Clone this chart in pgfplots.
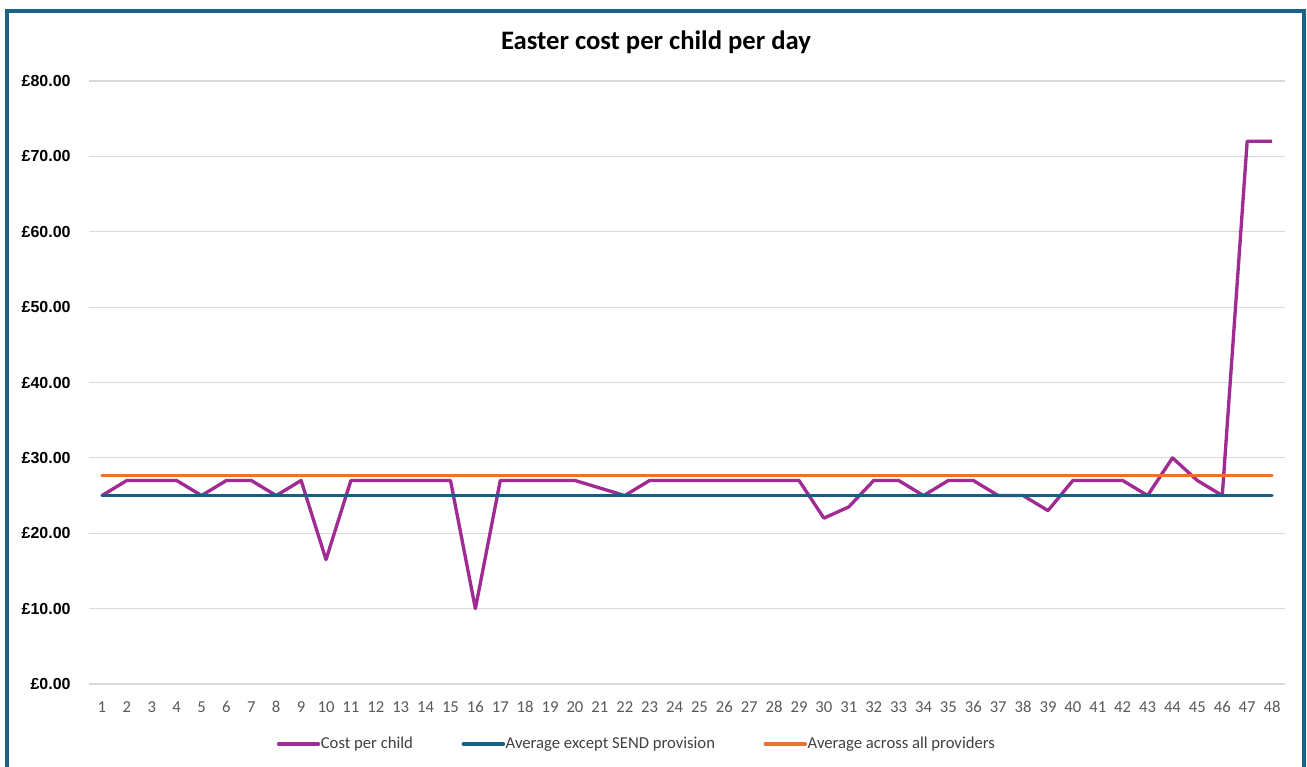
\documentclass[border=0pt]{standalone}
\usepackage{fontspec}
\setmainfont{Carlito}
\newfontfamily\ylabfont{Liberation Sans}
\usepackage{pgfplots}
\pgfplotsset{compat=1.18}
\definecolor{cpurple}{HTML}{A02B93}
\definecolor{cblue}{HTML}{156082}
\definecolor{corange}{HTML}{E97132}
\definecolor{cgrid}{HTML}{D9D9D9}
\definecolor{ctick}{HTML}{595959}
\definecolor{clegend}{HTML}{404040}
\definecolor{cborder}{HTML}{1B6288}
\begin{document}
\begin{tikzpicture}
\useasboundingbox (0,0) rectangle (980.25pt,575.25pt);
\fill[white] (0,0) rectangle (980.25pt,575.25pt);
\begin{axis}[
  at={(67.125pt,62.25pt)}, anchor=south west,
  scale only axis, width=896.25pt, height=452.25pt,
  xmin=0.5, xmax=48.5, ymin=0, ymax=80,
  xtick={1,...,48}, ytick={0,10,...,80},
  axis line style={draw=none}, major tick length=0pt,
  ymajorgrids, grid style={cgrid, line width=0.9pt},
  /pgf/number format/assume math mode=true,
  xticklabel style={font=\fontsize{12.5}{15}\selectfont, text=ctick, anchor=center, yshift=-17.25pt},
  yticklabel style={font=\ylabfont\bfseries\fontsize{12}{14}\selectfont, anchor=east, inner sep=0pt, xshift=-14pt},
  yticklabel={£\pgfmathprintnumber[fixed,fixed zerofill,precision=2]{\tick}},
  legend columns=3,
  legend style={at={(0.4575,-0.0995)}, anchor=center, draw=none, fill=none,
    font=\fontsize{12.5}{15}\selectfont, text=clegend,
    nodes={inner sep=0.5pt},
    /tikz/every even column/.append style={column sep=36pt}},
  legend image code/.code={\draw[#1, line cap=round] (0pt,0pt) -- (30pt,0pt);},
  every axis plot/.append style={line width=2.5pt, line join=round, mark=none},
]
\addplot[cpurple] coordinates {
(1,25) (2,27) (3,27) (4,27) (5,25) (6,27) (7,27) (8,25) (9,27) (10,16.5)
(11,27) (12,27) (13,27) (14,27) (15,27) (16,10) (17,27) (18,27) (19,27) (20,27)
(21,26) (22,25) (23,27) (24,27) (25,27) (26,27) (27,27) (28,27) (29,27) (30,22)
(31,23.5) (32,27) (33,27) (34,25) (35,27) (36,27) (37,25) (38,25) (39,23) (40,27)
(41,27) (42,27) (43,25) (44,30) (45,27) (46,25) (47,72) (48,72)
};
\addlegendentry{Cost per child}
\addplot[cblue, line cap=round] coordinates {(1,25) (48,25)};
\addlegendentry{Average except SEND provision}
\addplot[corange, line cap=round] coordinates {(1,27.7) (48,27.7)};
\addlegendentry{Average across all providers}
\end{axis}
\draw[line width=3pt, cborder] (5.6pt,-5pt) rectangle (978pt,567pt);
\node[anchor=base, font=\bfseries\fontsize{20}{24}\selectfont] at (492pt,537.75pt) {Easter cost per child per day};
\end{tikzpicture}
\end{document}
